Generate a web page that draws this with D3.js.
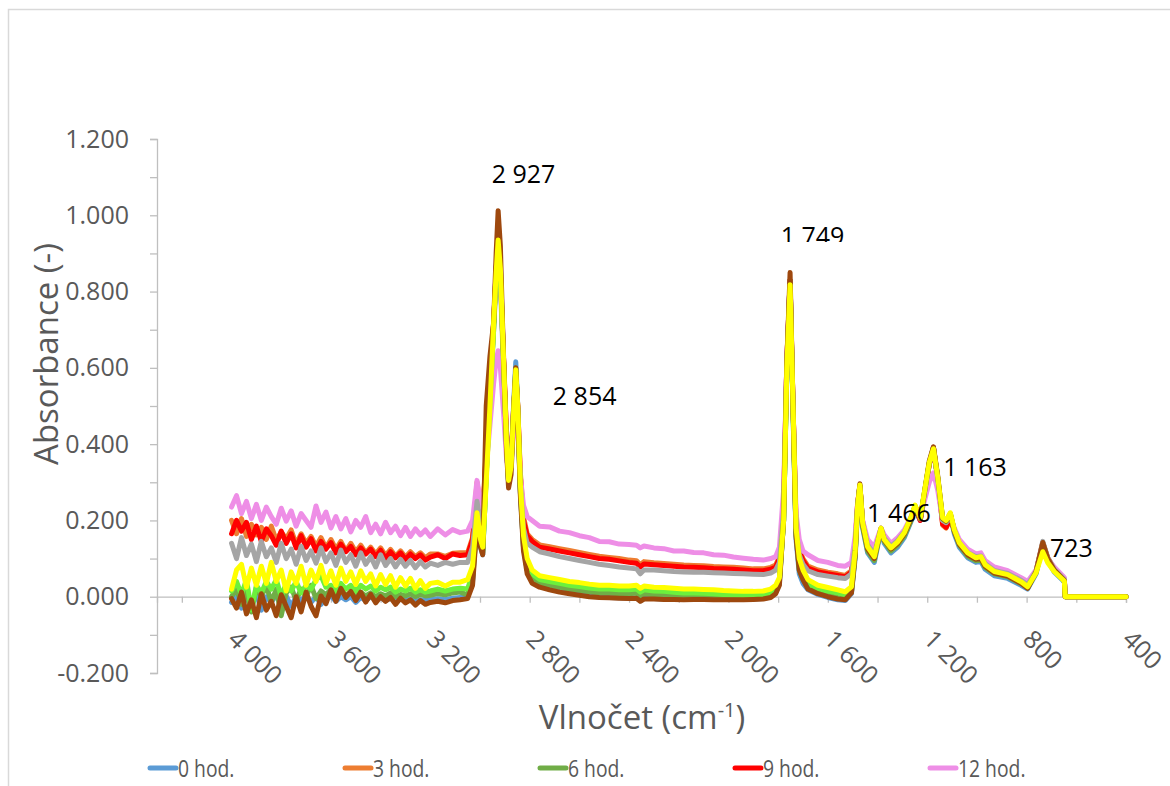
<!DOCTYPE html>
<html>
<head>
<meta charset="utf-8">
<script src="https://cdn.jsdelivr.net/npm/d3@7"></script>
<style>
body { margin: 0; background: #fff; }
svg { display: block; font-family: "Open Sans", sans-serif; }
</style>
</head>
<body>
<svg id="chart" width="1170" height="786"></svg>
<script>
// shared x values of every spectrum (cm-1)
var wavenumbers = [
  4000,3980,3960,3940,3920,3900,3880,3860,3840,3820,3800,3780,3760,3740,3720,3700,3680,3660,3640,3620,3600,3580,3560,3540,3520,3500,3480,3460,3440,3420,3400,3380,3360,3340,3320,3300,3280,3260,3240,3220,3200,3170,3140,3110,3080,
  3050,3030,3012,2998,2989,2975,2960,2945,2935,2927,2918,2905,2893,2885,2875,2865,2856,2848,2838,2825,2810,2790,
  2760,2720,2680,2640,2600,2560,2520,2480,2440,2400,2370,2355,2340,2300,2260,2220,2180,2140,2100,2060,2020,1980,1940,1900,1860,1830,1810,
  1795,1778,1765,1752,1740,1728,1715,1700,
  1680,1640,1600,1560,1530,1505,1490,1480,1471,1460,1440,1413,1397,1386,1373,1346,1319,1292,1265,1249,1228,1212,1192,1175,1158,1138,1124,1107,1091,1071,1037,1004,984,967,930,876,822,796,762,735,715,689,655,648,645,400
];

var abs0h = [
  -0.015,0.005,-0.03,0.0,-0.02,0.008,-0.035,0.0,-0.015,0.005,-0.02,0.002,-0.025,0.0,-0.01,0.005,-0.015,0.0,-0.02,-0.005,0.002,-0.012,0.0,-0.008,0.0,-0.015,-0.002,-0.01,0.0,-0.008,-0.002,-0.01,-0.004,-0.012,-0.005,-0.01,-0.006,-0.012,-0.008,-0.01,-0.008,-0.005,-0.008,-0.004,-0.002,
  0.0,0.04,0.2,0.13,0.11,0.32,0.52,0.72,0.86,0.95,0.87,0.62,0.39,0.3,0.34,0.5,0.616,0.5,0.28,0.13,0.07,0.04,
  0.028,0.02,0.014,0.01,0.006,0.002,0.0,-0.002,-0.003,-0.004,-0.003,-0.011,-0.005,-0.005,-0.006,-0.006,-0.007,-0.006,-0.006,-0.007,-0.007,-0.007,-0.007,-0.006,-0.005,0.0,0.01,
  0.035,0.2,0.6,0.83,0.48,0.15,0.06,0.035,
  0.018,0.006,-0.002,-0.008,-0.01,0.008,0.1,0.235,0.29,0.18,0.115,0.09,0.14,0.172,0.14,0.115,0.13,0.155,0.198,0.232,0.2,0.265,0.348,0.388,0.31,0.198,0.19,0.212,0.165,0.13,0.102,0.09,0.092,0.072,0.055,0.048,0.03,0.02,0.06,0.135,0.095,0.065,0.043,0.038,0,0
];
var abs3h = [
  0.2,0.165,0.205,0.158,0.19,0.162,0.182,0.15,0.185,0.148,0.17,0.152,0.175,0.138,0.165,0.14,0.158,0.132,0.155,0.128,0.15,0.125,0.145,0.12,0.14,0.118,0.135,0.115,0.13,0.112,0.128,0.108,0.124,0.106,0.12,0.104,0.118,0.105,0.115,0.102,0.112,0.112,0.106,0.114,0.115,
  0.115,0.155,0.3,0.23,0.21,0.39,0.56,0.72,0.86,0.92,0.85,0.63,0.42,0.32,0.36,0.49,0.585,0.5,0.33,0.21,0.165,0.15,
  0.136,0.131,0.126,0.121,0.116,0.111,0.106,0.103,0.1,0.096,0.094,0.084,0.092,0.089,0.087,0.085,0.083,0.082,0.081,0.079,0.078,0.077,0.075,0.073,0.073,0.077,0.083,
  0.105,0.245,0.62,0.83,0.5,0.195,0.125,0.1,
  0.08,0.07,0.064,0.06,0.056,0.068,0.142,0.246,0.292,0.198,0.138,0.112,0.154,0.18,0.154,0.132,0.148,0.17,0.206,0.234,0.202,0.264,0.347,0.392,0.312,0.188,0.18,0.204,0.176,0.144,0.118,0.106,0.108,0.088,0.07,0.062,0.044,0.032,0.068,0.142,0.102,0.074,0.052,0.046,0,0
];
var abs6h = [
  0.0,0.02,-0.02,0.015,-0.04,0.025,0.0,0.03,-0.015,0.02,-0.05,0.01,0.025,-0.01,0.02,0.0,0.03,-0.005,0.015,0.005,0.02,0.0,0.015,0.005,0.01,0.0,0.012,0.002,0.01,0.0,0.008,0.002,0.01,0.0,0.006,0.002,0.008,0.0,0.006,0.002,0.004,0.008,0.005,0.01,0.012,
  0.005,0.045,0.2,0.135,0.115,0.32,0.52,0.71,0.86,0.94,0.86,0.61,0.39,0.3,0.34,0.49,0.6,0.49,0.28,0.13,0.07,0.045,
  0.035,0.03,0.025,0.02,0.017,0.013,0.01,0.01,0.008,0.008,0.01,0.002,0.008,0.005,0.004,0.002,0.0,0.0,-0.001,-0.002,-0.003,-0.004,-0.005,-0.005,-0.004,0.002,0.012,
  0.04,0.2,0.6,0.83,0.48,0.16,0.07,0.045,
  0.025,0.01,0.004,-0.002,-0.004,0.012,0.11,0.238,0.29,0.185,0.12,0.095,0.145,0.175,0.145,0.12,0.136,0.16,0.2,0.235,0.203,0.268,0.35,0.39,0.312,0.2,0.194,0.215,0.17,0.135,0.106,0.094,0.097,0.077,0.06,0.052,0.034,0.023,0.063,0.138,0.098,0.068,0.046,0.04,0,0
];
var abs9h = [
  0.165,0.2,0.172,0.195,0.15,0.185,0.145,0.178,0.16,0.135,0.172,0.14,0.165,0.128,0.16,0.13,0.152,0.12,0.145,0.125,0.142,0.115,0.138,0.118,0.132,0.11,0.128,0.112,0.125,0.105,0.122,0.1,0.118,0.102,0.115,0.098,0.112,0.1,0.11,0.096,0.104,0.11,0.1,0.112,0.108,
  0.11,0.15,0.28,0.22,0.2,0.38,0.55,0.72,0.85,0.9,0.84,0.62,0.42,0.32,0.36,0.49,0.58,0.5,0.32,0.2,0.16,0.145,
  0.13,0.125,0.12,0.115,0.11,0.105,0.1,0.098,0.094,0.09,0.088,0.078,0.086,0.084,0.082,0.08,0.078,0.077,0.076,0.074,0.073,0.072,0.07,0.068,0.068,0.072,0.078,
  0.1,0.24,0.62,0.83,0.5,0.19,0.12,0.095,
  0.075,0.065,0.06,0.056,0.052,0.065,0.14,0.245,0.29,0.195,0.135,0.11,0.152,0.178,0.152,0.13,0.146,0.168,0.205,0.232,0.2,0.262,0.345,0.39,0.31,0.19,0.182,0.205,0.175,0.142,0.116,0.104,0.106,0.086,0.068,0.06,0.042,0.03,0.066,0.14,0.1,0.072,0.05,0.045,0,0
];
var abs12h = [
  0.235,0.265,0.218,0.25,0.205,0.242,0.2,0.235,0.21,0.19,0.232,0.198,0.225,0.185,0.218,0.2,0.182,0.238,0.195,0.222,0.18,0.21,0.178,0.205,0.17,0.2,0.182,0.21,0.168,0.19,0.165,0.195,0.168,0.185,0.16,0.182,0.158,0.178,0.162,0.175,0.158,0.178,0.162,0.176,0.168,
  0.172,0.2,0.305,0.25,0.23,0.34,0.45,0.56,0.62,0.645,0.6,0.48,0.36,0.33,0.35,0.43,0.5,0.44,0.32,0.24,0.21,0.2,
  0.185,0.183,0.172,0.168,0.16,0.155,0.145,0.144,0.138,0.137,0.135,0.128,0.133,0.128,0.126,0.12,0.12,0.116,0.115,0.11,0.109,0.104,0.101,0.098,0.096,0.1,0.105,
  0.13,0.28,0.62,0.8,0.5,0.22,0.15,0.12,
  0.11,0.095,0.09,0.082,0.08,0.09,0.16,0.25,0.285,0.2,0.15,0.13,0.16,0.18,0.162,0.14,0.155,0.175,0.21,0.235,0.21,0.25,0.3,0.325,0.28,0.2,0.195,0.21,0.18,0.15,0.125,0.112,0.115,0.095,0.078,0.068,0.05,0.04,0.07,0.125,0.1,0.078,0.055,0.05,0,0
];
var abs15h = [
  0.14,0.1,0.155,0.108,0.138,0.092,0.145,0.105,0.128,0.09,0.14,0.1,0.125,0.085,0.132,0.095,0.12,0.088,0.128,0.092,0.115,0.082,0.122,0.09,0.11,0.08,0.115,0.085,0.105,0.078,0.11,0.082,0.1,0.078,0.098,0.08,0.095,0.076,0.092,0.078,0.088,0.082,0.09,0.085,0.09,
  0.09,0.13,0.25,0.19,0.17,0.36,0.53,0.7,0.83,0.88,0.82,0.6,0.4,0.31,0.35,0.48,0.58,0.49,0.3,0.18,0.14,0.13,
  0.118,0.112,0.105,0.1,0.095,0.09,0.085,0.082,0.078,0.075,0.073,0.06,0.07,0.07,0.068,0.066,0.065,0.064,0.064,0.063,0.062,0.061,0.06,0.059,0.058,0.062,0.07,
  0.09,0.23,0.62,0.83,0.5,0.18,0.11,0.085,
  0.068,0.058,0.054,0.05,0.048,0.06,0.135,0.242,0.29,0.196,0.136,0.112,0.153,0.18,0.154,0.132,0.148,0.17,0.207,0.236,0.204,0.268,0.35,0.392,0.315,0.2,0.194,0.214,0.175,0.142,0.116,0.105,0.107,0.087,0.069,0.061,0.043,0.031,0.067,0.145,0.103,0.073,0.05,0.045,0,0
];
var abs18h = [
  0.015,0.04,0.005,0.045,-0.035,0.03,0.01,0.04,0.02,0.045,0.0,0.035,0.015,0.04,0.01,0.03,0.02,0.045,0.055,0.025,0.03,0.015,0.035,0.02,0.03,0.015,0.03,0.02,0.028,0.015,0.025,0.018,0.025,0.012,0.02,0.015,0.022,0.012,0.018,0.012,0.015,0.02,0.015,0.02,0.022,
  0.02,0.06,0.21,0.14,0.12,0.31,0.51,0.7,0.85,0.93,0.85,0.61,0.39,0.3,0.34,0.48,0.59,0.49,0.29,0.15,0.09,0.06,
  0.045,0.04,0.035,0.03,0.027,0.023,0.02,0.02,0.018,0.018,0.02,0.012,0.018,0.015,0.014,0.012,0.01,0.01,0.009,0.008,0.006,0.005,0.004,0.004,0.005,0.01,0.02,
  0.045,0.2,0.6,0.82,0.49,0.17,0.09,0.06,
  0.035,0.022,0.015,0.01,0.006,0.02,0.115,0.24,0.292,0.19,0.128,0.102,0.148,0.178,0.148,0.125,0.142,0.166,0.207,0.238,0.205,0.27,0.35,0.388,0.313,0.204,0.198,0.218,0.174,0.14,0.112,0.1,0.103,0.082,0.064,0.056,0.037,0.025,0.064,0.13,0.094,0.068,0.046,0.041,0,0
];
var abs21h = [
  -0.005,-0.03,0.012,-0.045,-0.008,-0.055,0.008,-0.035,-0.012,-0.05,0.005,-0.025,-0.055,0.0,-0.04,0.012,-0.025,-0.05,0.002,-0.018,0.018,-0.012,0.022,-0.002,0.014,-0.01,0.012,-0.014,0.006,-0.016,0.0,-0.012,-0.002,-0.02,-0.004,-0.016,-0.008,-0.022,-0.01,-0.02,-0.015,-0.012,-0.016,-0.01,-0.008,
  -0.005,0.03,0.19,0.13,0.11,0.5,0.63,0.72,0.9,1.012,0.92,0.62,0.38,0.285,0.32,0.47,0.6,0.49,0.27,0.12,0.06,0.035,
  0.025,0.018,0.012,0.008,0.004,0.0,-0.002,-0.003,-0.004,-0.005,-0.004,-0.012,-0.006,-0.006,-0.007,-0.007,-0.008,-0.007,-0.007,-0.008,-0.008,-0.008,-0.008,-0.007,-0.006,-0.002,0.008,
  0.03,0.2,0.62,0.85,0.5,0.16,0.07,0.045,
  0.02,0.008,0.0,-0.006,-0.008,0.01,0.11,0.24,0.296,0.19,0.125,0.1,0.148,0.178,0.148,0.125,0.14,0.165,0.205,0.238,0.205,0.27,0.355,0.393,0.318,0.205,0.198,0.218,0.172,0.138,0.11,0.098,0.1,0.08,0.062,0.054,0.035,0.022,0.065,0.142,0.1,0.07,0.047,0.042,0,0
];
var abs24h = [
  0.02,0.07,0.085,0.025,0.075,0.03,0.08,0.035,0.09,0.04,0.07,0.015,0.065,0.035,0.08,0.03,0.07,0.04,0.082,0.035,0.068,0.03,0.075,0.04,0.065,0.032,0.068,0.04,0.06,0.028,0.058,0.032,0.055,0.025,0.05,0.028,0.048,0.022,0.042,0.022,0.035,0.038,0.028,0.038,0.038,
  0.045,0.08,0.22,0.15,0.13,0.3,0.5,0.72,0.85,0.935,0.86,0.62,0.4,0.305,0.34,0.48,0.595,0.5,0.3,0.16,0.1,0.07,
  0.055,0.05,0.045,0.04,0.037,0.033,0.03,0.03,0.028,0.028,0.03,0.022,0.028,0.025,0.024,0.022,0.02,0.02,0.019,0.018,0.016,0.015,0.014,0.014,0.015,0.02,0.03,
  0.05,0.2,0.6,0.818,0.5,0.18,0.1,0.07,
  0.045,0.03,0.024,0.018,0.013,0.026,0.12,0.24,0.293,0.194,0.131,0.105,0.15,0.18,0.15,0.128,0.144,0.168,0.21,0.24,0.207,0.272,0.351,0.388,0.315,0.207,0.2,0.22,0.176,0.142,0.115,0.102,0.105,0.084,0.066,0.058,0.039,0.026,0.063,0.118,0.089,0.066,0.045,0.04,0,0
];

// drawing order = Excel series order (yellow ends on top)
var seriesNames = ["0 hod.", "3 hod.", "6 hod.", "9 hod.", "12 hod.", "15 hod.", "18 hod.", "21 hod.", "24 hod."];
var seriesValues = [abs0h, abs3h, abs6h, abs9h, abs12h, abs15h, abs18h, abs21h, abs24h];
var seriesColors = ["#5B9BD5", "#ED7D31", "#70AD47", "#FF0000", "#EE8EE6", "#A5A5A5", "#6CF03C", "#9E480E", "#FFFF00"];
var legendCount = 5; // only the first row of the legend fits in the picture

var yTickValues = [-0.2,-0.1,0,0.1,0.2,0.3,0.4,0.5,0.6,0.7,0.8,0.9,1.0,1.1,1.2];
var xTickValues = [4200,4000,3800,3600,3400,3200,3000,2800,2600,2400,2200,2000,1800,1600,1400,1200,1000,800,600,400];
var xLabelValues = [4000,3600,3200,2800,2400,2000,1600,1200,800,400];

// peak annotations, anchored at (wavenumber, absorbance) of the text start
var peakText = ["2 927", "2 854", "1 749", "1 466", "1 163", "723"];
var peakWn   = [2953, 2707, 1790, 1442, 1136, 706];
var peakAbs  = [1.085, 0.503, 0.922, 0.195, 0.317, 0.105];

var svg = d3.select("#chart");
var grey = "#595959";
var axisGrey = "#BFBFBF";

// chart frame
svg.append("rect")
  .attr("x", 8.5).attr("y", 9.5)
  .attr("width", 1200).attr("height", 900)
  .attr("fill", "#fff").attr("stroke", "#D9D9D9").attr("stroke-width", 1.5);

var x = d3.scaleLinear().domain([4300, 400]).range([157, 1126]);
var y = d3.scaleLinear().domain([-0.2, 1.2]).range([673, 139]);

// y axis
var yAxis = d3.axisLeft(y)
  .tickValues(yTickValues)
  .tickSize(7)
  .tickPadding(21)
  .tickFormat(function(d) {
    var k = Math.round(d * 10);
    return k % 2 === 0 ? d.toFixed(3) : "";
  });
var gy = svg.append("g").attr("transform", "translate(157,0)").call(yAxis);
gy.select(".domain").attr("stroke", axisGrey).attr("stroke-width", 1.3);
gy.selectAll(".tick line").attr("stroke", axisGrey).attr("stroke-width", 1.3);
gy.selectAll(".tick text")
  .attr("fill", grey)
  .style("font-size", "25px")
  .style("font-family", "'Open Sans', sans-serif");

// x axis through zero
var xAxis = d3.axisBottom(x).tickValues(xTickValues).tickSize(6).tickFormat("");
var gx = svg.append("g").attr("transform", "translate(0," + y(0) + ")").call(xAxis);
gx.select(".domain").attr("stroke", axisGrey).attr("stroke-width", 1.3);
gx.selectAll(".tick line").attr("stroke", axisGrey).attr("stroke-width", 1.3);

var spaceFormat = d3.formatLocale({ decimal: ".", thousands: " ", grouping: [3], currency: ["", ""] }).format(",");
svg.append("g").selectAll("text")
  .data(xLabelValues)
  .join("text")
  .attr("transform", function(d) { return "translate(" + (x(d) - 5) + "," + (y(0) + 44) + ") rotate(45)"; })
  .attr("fill", grey)
  .style("font-size", "25px")
  .text(function(d) { return spaceFormat(d); });

// spectra
var line = d3.line()
  .x(function(d, i) { return x(wavenumbers[i]); })
  .y(function(d) { return y(d); });

svg.append("g").selectAll("path")
  .data(seriesValues)
  .join("path")
  .attr("d", line)
  .attr("fill", "none")
  .attr("stroke", function(d, i) { return seriesColors[i]; })
  .attr("stroke-width", 5)
  .attr("stroke-linejoin", "round")
  .attr("stroke-linecap", "round");

// peak labels (the 1 749 text box cuts its last pixel row)
svg.append("clipPath").attr("id", "peakClip")
  .append("rect").attr("x", 0).attr("y", 0).attr("width", 1170).attr("height", 242);
svg.append("g").selectAll("text")
  .data(peakText)
  .join("text")
  .attr("x", function(d, i) { return x(peakWn[i]); })
  .attr("y", function(d, i) { return y(peakAbs[i]); })
  .attr("clip-path", function(d) { return d === "1 749" ? "url(#peakClip)" : null; })
  .attr("fill", "#000")
  .style("font-size", "25px")
  .text(function(d) { return d; });

// axis titles
svg.append("text")
  .attr("transform", "translate(58,354) rotate(-90)")
  .attr("text-anchor", "middle")
  .attr("fill", grey)
  .style("font-size", "33px")
  .text("Absorbance (-)");

var xt = svg.append("text")
  .attr("x", 642).attr("y", 729)
  .attr("text-anchor", "middle")
  .attr("fill", grey)
  .style("font-size", "33px");
xt.append("tspan").text("Vlnočet (cm");
xt.append("tspan").attr("dy", -12).style("font-size", "20px").text("-1");
xt.append("tspan").attr("dy", 12).text(")");

// legend (Excel squeezes the entries horizontally)
var legend = svg.append("g").selectAll("g")
  .data(seriesNames.slice(0, legendCount))
  .join("g")
  .attr("transform", function(d, i) { return "translate(" + (150 + i * 195) + ",768)"; });
legend.append("line")
  .attr("x1", 0).attr("x2", 26).attr("y1", 0).attr("y2", 0)
  .attr("stroke", function(d, i) { return seriesColors[i]; })
  .attr("stroke-width", 5)
  .attr("stroke-linecap", "round");
legend.append("text")
  .attr("x", 28).attr("y", 9)
  .attr("fill", grey)
  .style("font-size", "23px")
  .text(function(d) { return d; })
  .each(function() {
    var w = this.getComputedTextLength();
    d3.select(this).attr("textLength", w * 0.84).attr("lengthAdjust", "spacingAndGlyphs");
  });
</script>
</body>
</html>
